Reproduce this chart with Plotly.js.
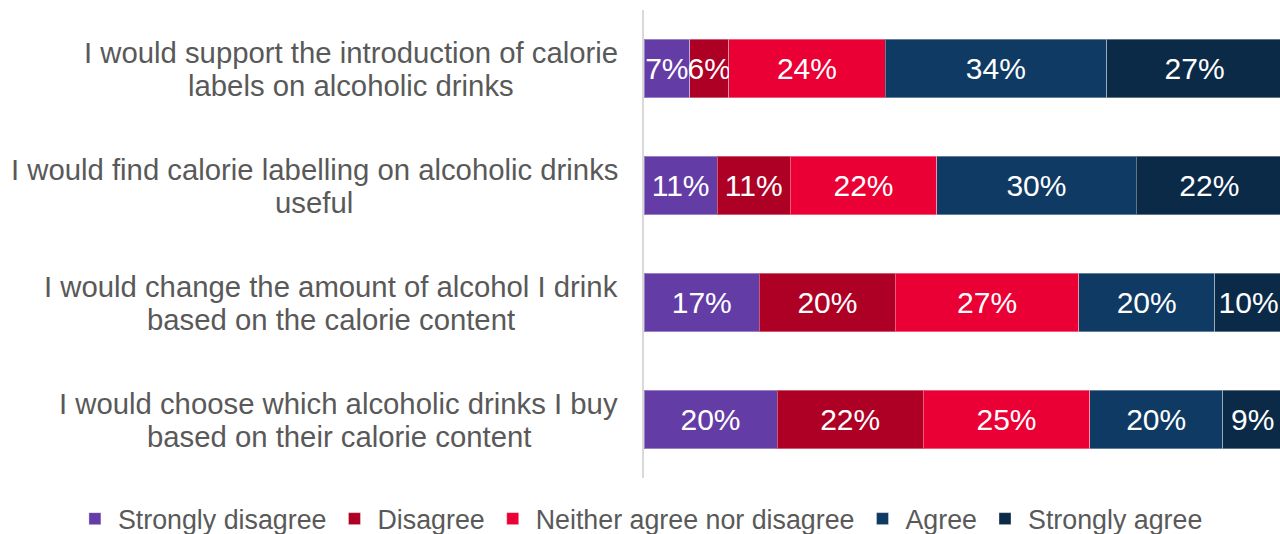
<!DOCTYPE html>
<html>
<head>
<meta charset="utf-8">
<script src="https://cdn.plot.ly/plotly-3.0.1.min.js"></script>
<style>
  html, body { margin: 0; padding: 0; background: #ffffff; }
  #chart { width: 1280px; height: 534px; }
</style>
</head>
<body>
<div id="chart"></div>
<script>
// ---- Data ----
const categories = [
  "I would support the introduction of calorie labels on alcoholic drinks",
  "I would find calorie labelling on alcoholic drinks useful",
  "I would change the amount of alcohol I drink based on the calorie content",
  "I would choose which alcoholic drinks I buy based on their calorie content"
];
const labelLine1 = [
  "I would support the introduction of calorie",
  "I would find calorie labelling on alcoholic drinks",
  "I would change the amount of alcohol I drink",
  "I would choose which alcoholic drinks I buy"
];
const labelLine2 = [
  "labels on alcoholic drinks",
  "useful",
  "based on the calorie content",
  "based on their calorie content"
];
const seriesNames = ["Strongly disagree", "Disagree", "Neither agree nor disagree", "Agree", "Strongly agree"];
const stronglyDisagree = [7, 11, 17, 20];
const disagree = [6, 11, 20, 22];
const neither = [24, 22, 27, 25];
const agree = [34, 30, 20, 20];
const stronglyAgree = [27, 22, 10, 9];
const seriesValues = [stronglyDisagree, disagree, neither, agree, stronglyAgree];
const seriesColors = ["#643CA6", "#AE0025", "#EA0034", "#0E3A64", "#0B2A48"];

const FONT = "Liberation Sans, Arial, sans-serif";
const GREY = "#595959";
const LABEL_SIZE = 29.3;
const LABEL_GAP = 26;
const LINE_OFFSET = 16.5;

// measure text widths so that the second line is centred under the first
const canvas = document.createElement("canvas");
const ctx = canvas.getContext("2d");
ctx.font = LABEL_SIZE + "px 'Liberation Sans', Arial, sans-serif";
function textWidth(s) { return ctx.measureText(s).width; }

const traces = seriesNames.map((name, i) => ({
  type: "bar",
  orientation: "h",
  name: name,
  y: categories,
  x: seriesValues[i],
  text: seriesValues[i].map(v => v + "%"),
  textposition: "inside",
  insidetextanchor: "middle",
  textangle: 0,
  constraintext: "none",
  textfont: { family: FONT, size: 30, color: "#ffffff" },
  marker: { color: seriesColors[i], line: { color: "rgba(255,255,255,0.35)", width: 1 } },
  hoverinfo: "skip"
}));

const annotations = [];
categories.forEach((c, i) => {
  const w1 = textWidth(labelLine1[i]);
  const w2 = textWidth(labelLine2[i]);
  const wMax = Math.max(w1, w2);
  [[labelLine1[i], LINE_OFFSET], [labelLine2[i], -LINE_OFFSET]].forEach(([t, dy]) => {
    annotations.push({
      xref: "paper", yref: "y",
      x: 0, y: c,
      xanchor: "center", yanchor: "middle",
      xshift: -LABEL_GAP - wMax / 2,
      yshift: dy,
      showarrow: false,
      text: t,
      font: { family: FONT, size: LABEL_SIZE, color: GREY }
    });
  });
});

const layout = {
  width: 1280, height: 534,
  margin: { l: 644, r: 0, t: 10, b: 56, autoexpand: false },
  paper_bgcolor: "#ffffff",
  plot_bgcolor: "#ffffff",
  barmode: "stack",
  barnorm: "percent",
  bargap: 0.5,
  showlegend: true,
  legend: {
    orientation: "h",
    x: -0.8995, xanchor: "left",
    y: -0.087, yanchor: "middle",
    itemwidth: 36,
    font: { family: FONT, size: 26.8, color: GREY },
    traceorder: "normal",
    bgcolor: "rgba(0,0,0,0)"
  },
  xaxis: {
    range: [0, 99.6],
    visible: false,
    showgrid: false,
    zeroline: false,
    fixedrange: true
  },
  yaxis: {
    type: "category",
    autorange: "reversed",
    showticklabels: false,
    showgrid: false,
    zeroline: false,
    showline: true,
    linecolor: "#D9D9D9",
    linewidth: 2,
    ticks: "",
    fixedrange: true
  },
  annotations: annotations,
  font: { family: FONT, color: GREY }
};

Plotly.newPlot("chart", traces, layout, { displayModeBar: false, staticPlot: true });
</script>
</body>
</html>
